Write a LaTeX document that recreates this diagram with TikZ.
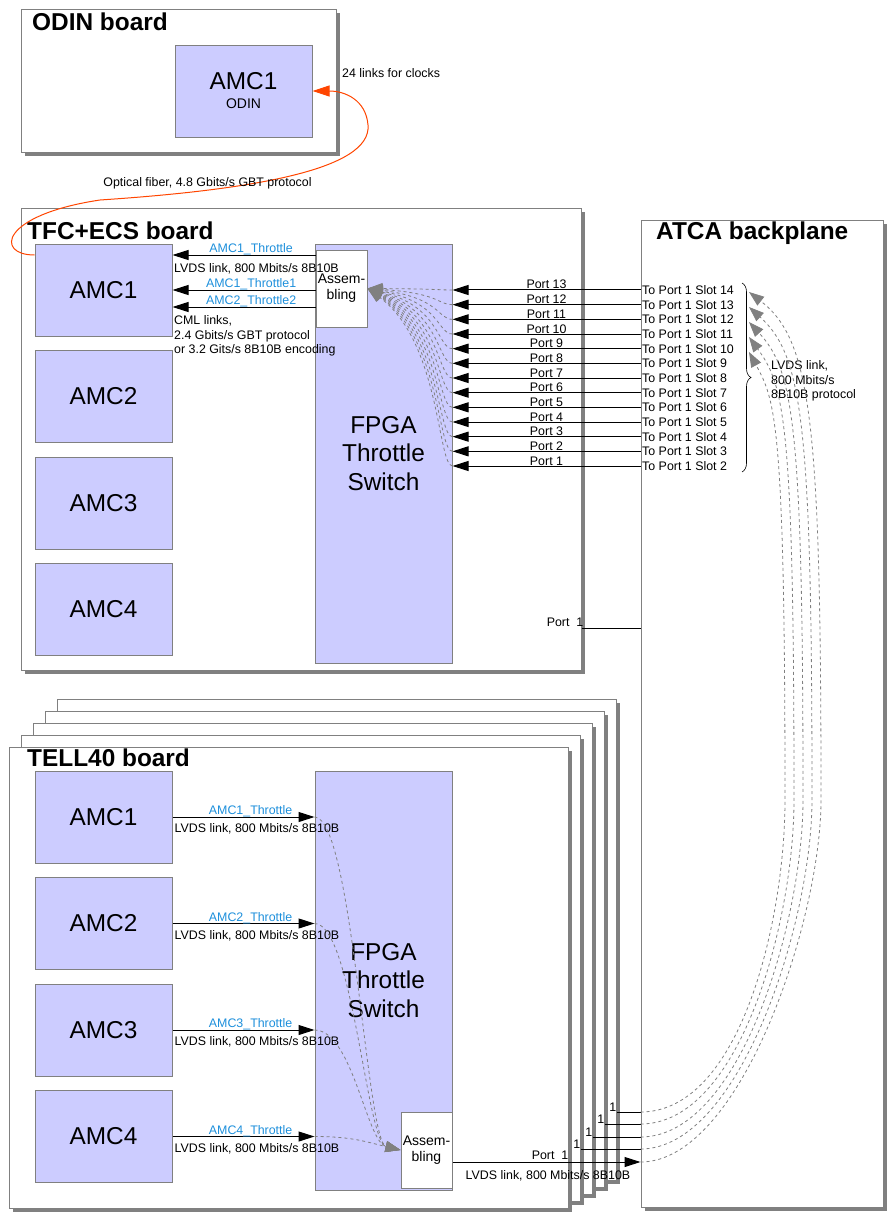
\documentclass[tikz,border=0pt]{standalone}
\usepackage{fontspec}
\setmainfont{Liberation Sans}
\usepackage{tikz}
\usetikzlibrary{arrows.meta,positioning,calc,shadows,decorations.pathreplacing}

\definecolor{amcfill}{RGB}{204,204,255}
\definecolor{edgegray}{RGB}{128,128,128}
\definecolor{fiberred}{RGB}{255,69,0}
\definecolor{sigblue}{RGB}{30,144,220}

\newcommand{\txtsmall}{\fontsize{12.4}{14.5}\selectfont}
\newcommand{\txtmid}{\fontsize{14}{16}\selectfont}
\newcommand{\txtbig}{\fontsize{24.4}{28.5}\selectfont}

\begin{document}
\begin{tikzpicture}[
  x=1pt, y=-1pt,
  font=\txtsmall,
  board/.style={draw=edgegray, fill=white, line width=1pt, inner sep=0pt,
    general shadow={fill=edgegray, shadow xshift=4pt, shadow yshift=-4pt}},
  boardtitle/.style={anchor=base west, inner sep=0pt, font=\txtbig\bfseries},
  amc/.style={draw=edgegray, fill=amcfill, line width=1pt, inner sep=0pt,
    minimum width=137pt, minimum height=92pt, font=\txtbig},
  fpga/.style={draw=edgegray, fill=amcfill, line width=1pt, inner sep=0pt,
    minimum width=137pt, minimum height=419pt, align=center, font=\txtbig},
  assem/.style={draw=edgegray, fill=white, line width=1pt, inner sep=0pt,
    minimum width=51pt, minimum height=77pt, align=center, font=\txtmid},
  sig/.style={text=sigblue, anchor=base, inner sep=0pt, yshift=2.5pt},
  note/.style={anchor=north west, inner sep=0pt, align=left},
  slot/.style={anchor=west, inner sep=1.5pt},
  link/.style={line width=1pt},
  arr/.style={-{Triangle[length=16pt,width=10pt]}, line width=1pt},
  flow/.style={dashed, edgegray, line width=0.8pt, -{Triangle[length=15pt,width=11pt]}},
  fiber/.style={fiberred, line width=1pt, -{Triangle[length=17pt,width=11pt]}},
  bracemark/.style={decorate, decoration={brace, amplitude=9pt}, line width=0.6pt}
]
  \useasboundingbox (0,0) rectangle (890,1218);

  % ODIN board
  \node[board, minimum width=315pt, minimum height=143pt] (odin) at (178.5,80.5) {};
  \node[boardtitle] (odin-title) at (32,30) {ODIN board};
  \node[amc, align=center] (odin-amc1) at (243.5,91) {AMC1\\[-9.5pt]{\txtmid ODIN}};
  \node[anchor=west, inner sep=0pt] (clock-lbl) at (342,73) {24 links for clocks};

  % TFC+ECS board
  \node[board, minimum width=560pt, minimum height=462pt] (tfc) at (301,439) {};
  \node[boardtitle] (tfc-title) at (27,239) {TFC+ECS board};
  \node[amc] (tfc-amc1) at (103.5,290) {AMC1};
  \node[amc, below=13.5pt of tfc-amc1] (tfc-amc2) {AMC2};
  \node[amc, below=13.5pt of tfc-amc2] (tfc-amc3) {AMC3};
  \node[amc, below=13.5pt of tfc-amc3] (tfc-amc4) {AMC4};
  \node[fpga] (tfc-fpga) at (383.5,453.5) {FPGA\\Throttle\\Switch};
  \node[assem] (tfc-assem) at (341.5,288.5) {Assem-\\bling};

  % Throttles towards AMC1
  \draw[arr] (tfc-assem.west |- 0,255) -- (tfc-amc1.east |- 0,255)
    node[sig, pos=0.45] (tfc-sig1) {AMC1\_Throttle};
  \draw[arr] (tfc-assem.west |- 0,290) -- (tfc-amc1.east |- 0,290)
    node[sig, pos=0.45] (tfc-sig2) {AMC1\_Throttle1};
  \draw[arr] (tfc-assem.west |- 0,307) -- (tfc-amc1.east |- 0,307)
    node[sig, pos=0.45] (tfc-sig3) {AMC2\_Throttle2};
  \node[note] (tfc-lvds) at (174,263.5) {LVDS link, 800 Mbits/s 8B10B};
  \node[note] (tfc-cml) at (174,315.5) {CML links,\\2.4 Gbits/s GBT protocol\\or 3.2 Gits/s 8B10B encoding};

  % ATCA backplane
  \node[board, minimum width=242pt, minimum height=987pt] (atca) at (762,713.5) {};
  \node[boardtitle] (atca-title) at (656,239) {ATCA backplane};

  % Ports 1..13 coming from the slots
  \foreach \p [evaluate=\p as \y using 466-(\p-1)*14.667,
               evaluate=\p as \s using int(\p+1)] in {1,...,13}{
    \node[slot] (slot-\s) at (atca.west |- 0,\y) {To Port 1 Slot \s};
    \draw[arr] (slot-\s.west) -- (slot-\s.west -| tfc-fpga.east)
      node[pos=0.5, anchor=base, inner sep=0pt, yshift=1pt] (port-\p) {Port \p};
    \draw[flow] (slot-\s.west -| tfc-fpga.east) .. controls +(-15,0) and +(73,{0.3*(\y-288.5)}) .. (tfc-assem.east);
  }
  \draw[bracemark] (742,283) -- (742,472);
  \node[note] (atca-lvds) at (771,360.5) {LVDS link,\\800 Mbits/s\\8B10B protocol};

  \draw[link] (tfc.east |- 0,628) -- (atca.west |- 0,628);
  \node[anchor=base east, inner sep=0pt, yshift=2pt, xshift=2pt] (tfc-port1) at (tfc.east |- 0,628) {Port\ \ 1};

  % TELL40 boards, stacked
  \foreach \k in {4,3,2,1}{
    \node[board, minimum width=559pt, minimum height={(461+5*\k)*1pt}]
      (tell-b\k) at ({288.5+12*\k},{977.5-9.5*\k}) {};
  }
  \node[board, minimum width=559pt, minimum height=461pt] (tell) at (288.5,977.5) {};
  \node[boardtitle] (tell-title) at (27,766) {TELL40 board};
  \node[amc] (tell-amc1) at (103.5,817) {AMC1};
  \node[amc, below=13.5pt of tell-amc1] (tell-amc2) {AMC2};
  \node[amc, below=13.5pt of tell-amc2] (tell-amc3) {AMC3};
  \node[amc, below=13.5pt of tell-amc3] (tell-amc4) {AMC4};
  \node[fpga] (tell-fpga) at (383.5,980.5) {FPGA\\Throttle\\Switch};
  \node[assem, minimum height=76pt] (tell-assem) at (426.5,1150) {Assem-\\bling};

  \foreach \i in {1,...,4}{
    \draw[arr] (tell-amc\i.east) -- (tell-amc\i.east -| tell-fpga.west)
      node[sig, pos=0.55] (tell-sig\i) {AMC\i\_Throttle};
    \node[note] (tell-lvds\i) at ([shift={(2,6.5)}]tell-amc\i.east) {LVDS link, 800 Mbits/s 8B10B};
    \draw[flow] (tell-amc\i.east -| tell-fpga.west) .. controls +(38,0) and +(-34,-8) .. (tell-assem.west);
  }

  % Port 1 of every TELL40 to the backplane
  \draw[arr] (tell-assem.east |- 0,1162) -- (atca.west |- 0,1162);
  \node[anchor=base east, inner sep=0pt, yshift=3pt] (tell-port1) at (tell.east |- 0,1162) {Port\ \ 1};
  \node[note] (tell-out-lvds) at ($(tell-assem.east |- 0,1162)+(13,8.5)$) {LVDS link, 800 Mbits/s 8B10B};
  \foreach \k/\y in {1/1149,2/1137,3/1124,4/1112}{
    \draw[link] (tell-b\k.east |- 0,\y) -- (atca.west |- 0,\y);
    \node[anchor=base east, inner sep=0pt, yshift=1pt] (tell-b\k-port) at (tell-b\k.east |- 0,\y) {1};
  }
  \foreach \k/\ys in {0/1162,1/1149,2/1137,3/1124,4/1112}{
    \pgfmathsetmacro{\xv}{821-9*\k}
    \pgfmathsetmacro{\yt}{292+15*\k}
    \draw[flow] (atca.west |- 0,\ys) .. controls +(100,0) and +(0,120) .. (\xv,800)
      .. controls (\xv,420) and (\xv-10,\yt+48) .. (749,\yt);
  }

  % Optical fiber to ODIN
  \draw[fiber] ([yshift=35pt]tfc-amc1.west) .. controls (-5,255) and (0,215) .. (100,200)
    .. controls (250,190) and (372,170) .. (368,125)
    .. controls (366,100) and (345,91) .. (odin-amc1.east);
  \node (fiber-lbl) at (207.5,183) {Optical fiber, 4.8 Gbits/s GBT protocol};
\end{tikzpicture}
\end{document}
